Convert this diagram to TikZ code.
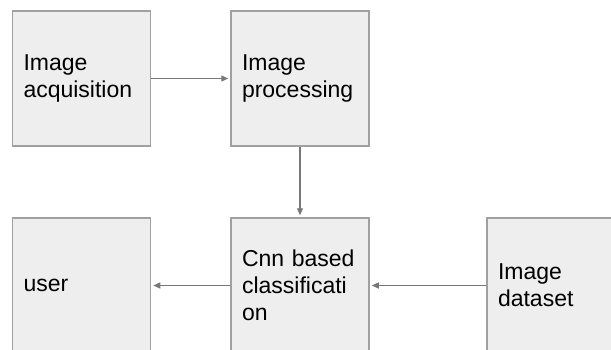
\documentclass[tikz,border=0pt]{standalone}
\usepackage{fontspec}
\setmainfont{Liberation Sans}
\usepackage{tikz}
\usetikzlibrary{arrows.meta}
\definecolor{boxfill}{RGB}{238,238,238}
\definecolor{boxline}{RGB}{160,160,160}
\definecolor{arrowgray}{RGB}{120,120,120}
\tikzset{
    stagebox/.style={
        draw=boxline,
        line width=1.5pt,
        fill=boxfill,
        minimum width=138pt,
        minimum height=135pt,
        text width=116pt,
        inner xsep=11pt,
        align=left,
        font=\fontsize{23}{27}\selectfont
    },
    % grey arrows between the boxes
    grayarrow/.style={
        line width=1.3pt,
        arrowgray,
        ->,
        shorten >=2pt,
        >={Triangle[length=7pt, width=6pt]}
    }
}
\begin{document}
\begin{tikzpicture}[x=1pt,y=-1pt]
    \useasboundingbox (0,0) rectangle (611,349);

    % boxes
    \node[stagebox] (acq) at (81.5,78.5) {Image\\acquisition};
    \node[stagebox] (proc) at (300,78.5) {Image\\processing};
    \node[stagebox] (user) at (81.5,285.5) {user};
    \node[stagebox] (cnn) at (300,285.5) {Cnn based\\classificati\\on};
    \node[stagebox] (data) at (556,285.5) {Image\\dataset};

    % arrows
    \draw[grayarrow] (acq) to (proc);
    \draw[grayarrow] (proc) to (cnn);
    \draw[grayarrow] (cnn) to (user);
    \draw[grayarrow] (data) to (cnn);
\end{tikzpicture}
\end{document}
